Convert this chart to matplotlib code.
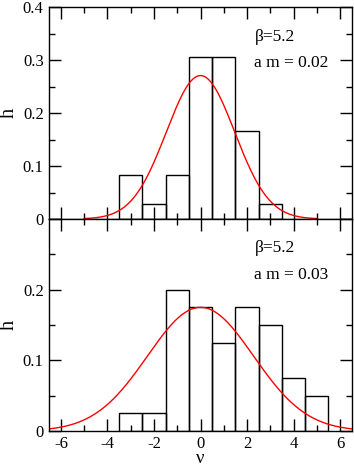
import numpy as np
import matplotlib.pyplot as plt
from matplotlib.ticker import MultipleLocator, FixedLocator

plt.rcParams['font.family'] = ['Liberation Serif', 'DejaVu Serif']

# histogram data (bins of width 1, centred on integers)
nu_top = [-3, -2, -1, 0, 1, 2, 3]
h_top = [0.0833, 0.0278, 0.0833, 0.3056, 0.3056, 0.1667, 0.0278]
nu_bot = [-3, -2, -1, 0, 1, 2, 3, 4, 5]
h_bot = [0.025, 0.025, 0.200, 0.175, 0.125, 0.175, 0.150, 0.075, 0.050]

# gaussian fits: peak height, sigma, plotted range
peak_top, sigma_top, range_top = 0.271, 1.47, (-5, 5)
peak_bot, sigma_bot, range_bot = 0.175, 2.28, (-6.5, 6.5)

labels_top = ['\u03b2=5.2', 'a m = 0.02']
labels_bot = ['\u03b2=5.2', 'a m = 0.03']

W, H = 354, 468
fig = plt.figure(figsize=(W / 100, H / 100), dpi=100)
left, right = 49.3 / W, 351.7 / W
ax1 = fig.add_axes([left, (H - 219) / H, right - left, 211.7 / H])
ax2 = fig.add_axes([left, (H - 431) / H, right - left, 212 / H])


def gauss(x, peak, sigma):
    return peak * np.exp(-x ** 2 / (2 * sigma ** 2))


for ax, nu, h, (pk, sg, rng), txt in [
        (ax1, nu_top, h_top, (peak_top, sigma_top, range_top), labels_top),
        (ax2, nu_bot, h_bot, (peak_bot, sigma_bot, range_bot), labels_bot)]:
    ax.bar(nu, h, width=1.0, fill=False, edgecolor='black', linewidth=1.0)
    xs = np.linspace(rng[0], rng[1], 400)
    ax.plot(xs, gauss(xs, pk, sg), color='red', linewidth=1.0)
    ax.set_xlim(-6.5, 6.5)
    ax.xaxis.set_major_locator(MultipleLocator(2))
    ax.xaxis.set_minor_locator(MultipleLocator(1))
    ax.yaxis.set_minor_locator(MultipleLocator(0.05))
    ax.tick_params(which='both', direction='in', top=True, right=True,
                   labelsize=12, width=1.0)
    ax.tick_params(which='major', length=8.5)
    ax.tick_params(which='minor', length=4.3)
    ax.tick_params(axis='y', pad=4)
    ax.tick_params(axis='x', pad=3.5)
    ax.set_ylabel('h', fontsize=14.5)
    ax.yaxis.set_label_coords(-0.102, 0.5)
    for s in ax.spines.values():
        s.set_linewidth(1.0)
    ax.text(0.68, 0.862, txt[0], transform=ax.transAxes, fontsize=12.5,
            va='center', ha='left')
    ax.text(0.676, 0.735, txt[1], transform=ax.transAxes, fontsize=12.5,
            va='center', ha='left')

ax1.set_ylim(0, 0.4)
ax1.yaxis.set_major_locator(FixedLocator([0, 0.1, 0.2, 0.3, 0.4]))
ax1.set_yticklabels(['0', '0.1', '0.2', '0.3', '0.4'])
ax1.tick_params(axis='x', labelbottom=False)

ax2.set_ylim(0, 0.3)
ax2.yaxis.set_major_locator(FixedLocator([0, 0.1, 0.2, 0.3]))
ax2.set_yticklabels(['0', '0.1', '0.2', ''])
ax2.set_xticks([-6, -4, -2, 0, 2, 4, 6])
ax2.set_xticklabels(['-6', '-4', '-2', '0', '2', '4', '6'])
fig.text((49.3 + 0.5 * 302.4) / W, 1 / H, '\u03bd', fontsize=13.5,
         ha='center', va='bottom')

fig.savefig('out.png', dpi=100)
